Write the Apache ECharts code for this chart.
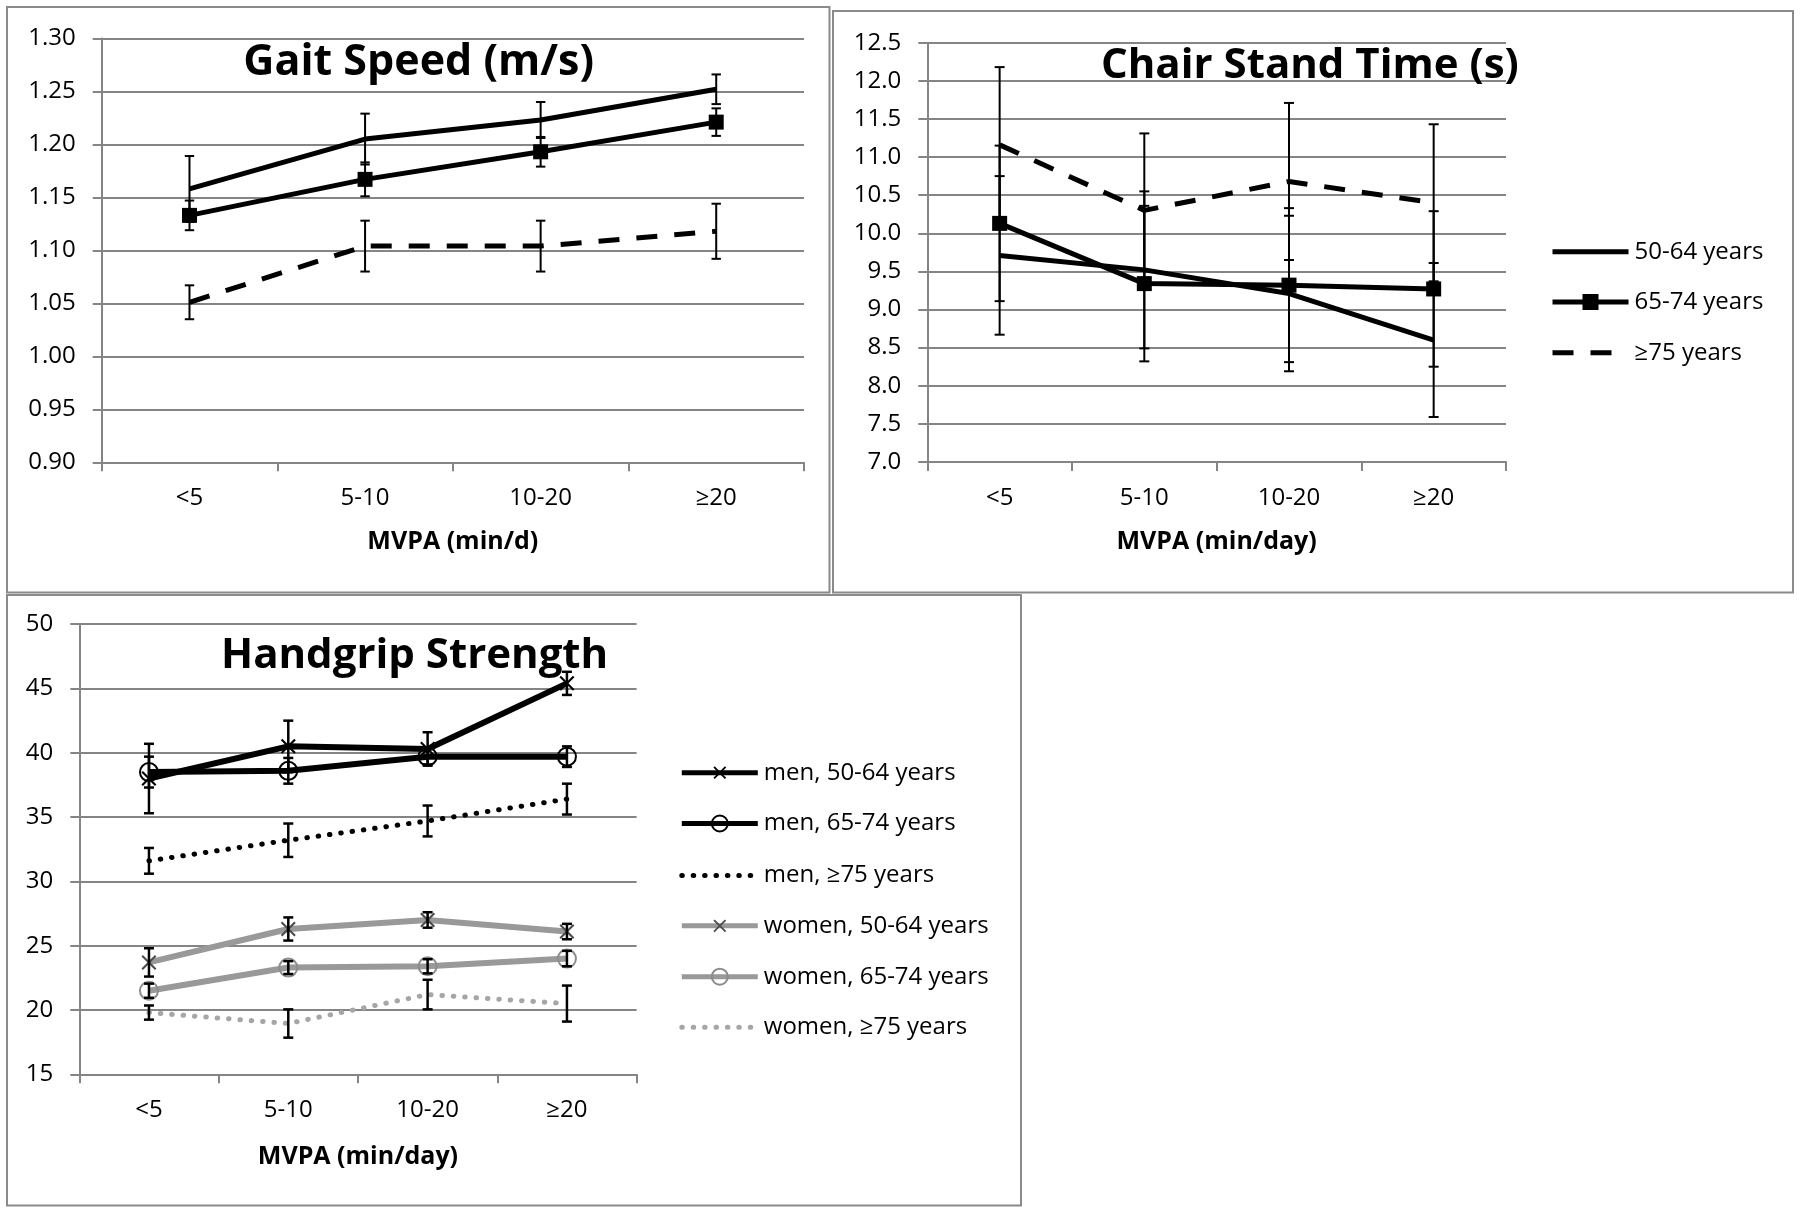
<!DOCTYPE html>
<html>
<head>
<meta charset="utf-8">
<script src="https://cdn.jsdelivr.net/npm/echarts@6/dist/echarts.min.js"></script>
<style>
html,body{margin:0;padding:0;background:#fff;}
#c{width:1800px;height:1212px;}
</style>
</head>
<body>
<div id="c"></div>
<script>
// ---------------- DATA ----------------
const categories = ['<5', '5-10', '10-20', '≥20'];
const ageNames = ['50-64 years', '65-74 years', '≥75 years'];

// Gait speed (m/s)
const gait5064 = [1.158, 1.205, 1.223, 1.252];
const gait5064Err = [0.031, 0.024, 0.017, 0.014];
const gait6574 = [1.133, 1.167, 1.193, 1.221];
const gait6574Err = [0.014, 0.016, 0.014, 0.013];
const gait75 = [1.051, 1.104, 1.104, 1.118];
const gait75Err = [0.016, 0.024, 0.024, 0.026];

// Chair stand time (s)
const chair5064 = [9.71, 9.52, 9.21, 8.60];
const chair5064Err = [1.04, 1.03, 1.02, 1.01];
const chair6574 = [10.13, 9.34, 9.32, 9.27];
const chair6574Err = [1.02, 1.02, 1.01, 1.02];
const chair75 = [11.16, 10.30, 10.68, 10.40];
const chair75Err = [1.02, 1.01, 1.03, 1.03];

// Handgrip strength
const gripNames = ['men, 50-64 years', 'men, 65-74 years', 'men, ≥75 years',
                   'women, 50-64 years', 'women, 65-74 years', 'women, ≥75 years'];
const gripMen5064 = [38.0, 40.5, 40.3, 45.4];
const gripMen5064Err = [2.7, 2.0, 1.3, 0.9];
const gripMen6574 = [38.5, 38.6, 39.7, 39.7];
const gripMen6574Err = [1.2, 1.0, 0.6, 0.8];
const gripMen75 = [31.6, 33.2, 34.7, 36.4];
const gripMen75Err = [1.0, 1.3, 1.2, 1.2];
const gripWomen5064 = [23.7, 26.3, 27.0, 26.1];
const gripWomen5064Err = [1.1, 0.9, 0.6, 0.6];
const gripWomen6574 = [21.5, 23.3, 23.4, 24.0];
const gripWomen6574Err = [0.55, 0.5, 0.55, 0.6];
const gripWomen75 = [19.8, 18.95, 21.2, 20.5];
const gripWomen75Err = [0.55, 1.1, 1.15, 1.4];

// Axis ranges
const gaitAxis = {min: 0.90, max: 1.30, step: 0.05, digits: 2};
const chairAxis = {min: 7.0, max: 12.5, step: 0.5, digits: 1};
const gripAxis = {min: 15, max: 50, step: 5, digits: 0};

const titles = ['Gait Speed (m/s)', 'Chair Stand Time (s)', 'Handgrip Strength'];
const xNames = ['MVPA (min/d)', 'MVPA (min/day)', 'MVPA (min/day)'];

// ---------------- STYLE ----------------
const FONT = '"Open Sans", "Liberation Sans", sans-serif';
const GRID_C = '#858585';
const BORDER_C = '#8a8a8a';
const DASH = [21, 17];
const DOT = [0.5, 10.9];
const X_PATH = 'path://M0,1L1,0L5,4L9,0L10,1L6,5L10,9L9,10L5,6L1,10L0,9L4,5Z';

const grids = [
  {left: 101.7, top: 38.4, width: 702.3, height: 423.9},
  {left: 927.3, top: 42.7, width: 578.7, height: 419.3},
  {left: 79.3, top: 624.2, width: 557.3, height: 450.1}
];
const axes = [gaitAxis, chairAxis, gripAxis];
const nameGaps = [67, 67, 70];

const xAxis = grids.map((g, i) => ({
  type: 'category', gridIndex: i, data: categories, boundaryGap: true,
  axisLine: {show: true, lineStyle: {color: GRID_C, width: 2}},
  axisTick: {show: true, length: 9, inside: false, lineStyle: {color: GRID_C, width: 2}},
  axisLabel: {margin: 24, fontSize: 24, color: '#000', fontFamily: FONT},
  splitLine: {show: false},
  name: xNames[i], nameLocation: 'middle', nameGap: nameGaps[i],
  nameTextStyle: {fontSize: 25, fontWeight: 'bold', color: '#000', fontFamily: FONT}
}));

const yAxis = axes.map((a, i) => ({
  type: 'value', gridIndex: i, min: a.min, max: a.max, interval: a.step,
  axisLine: {show: true, lineStyle: {color: GRID_C, width: 2}},
  axisTick: {show: true, length: 9, inside: false, lineStyle: {color: GRID_C, width: 2}},
  axisLabel: {margin: 26, fontSize: 24, color: '#000', fontFamily: FONT,
              formatter: v => Number(v).toFixed(a.digits)},
  splitLine: {show: true, lineStyle: {color: GRID_C, width: 2}}
}));

function lineSeries(name, data, idx, opt) {
  return Object.assign({
    type: 'line', name: name, data: data, xAxisIndex: idx, yAxisIndex: idx,
    symbol: 'none', showSymbol: true, animation: false, silent: true, z: 2,
    emphasis: {disabled: true}
  }, opt);
}

function errSeries(mean, err, idx, capHalf, lw) {
  return {
    type: 'custom', xAxisIndex: idx, yAxisIndex: idx, z: 5, silent: true, animation: false,
    data: mean.map((m, i) => [i, m - err[i], m + err[i]]),
    encode: {x: 0, y: [1, 2]},
    renderItem: function (params, api) {
      const x = api.value(0);
      const hi = api.coord([x, api.value(2)]);
      const lo = api.coord([x, api.value(1)]);
      const st = {stroke: '#000', lineWidth: lw};
      return {type: 'group', children: [
        {type: 'line', shape: {x1: hi[0], y1: hi[1], x2: lo[0], y2: lo[1]}, style: st},
        {type: 'line', shape: {x1: hi[0] - capHalf, y1: hi[1], x2: hi[0] + capHalf, y2: hi[1]}, style: st},
        {type: 'line', shape: {x1: lo[0] - capHalf, y1: lo[1], x2: lo[0] + capHalf, y2: lo[1]}, style: st}
      ]};
    }
  };
}

const solidBlack = {lineStyle: {color: '#000', width: 5}, itemStyle: {color: '#000'}};
const squareBlack = {symbol: 'rect', symbolSize: 15, lineStyle: {color: '#000', width: 5}, itemStyle: {color: '#000'}};
const dashBlack = {lineStyle: {color: '#000', width: 5, type: DASH}, itemStyle: {color: '#000'}};

const series = [
  // Gait
  lineSeries(ageNames[0], gait5064, 0, solidBlack),
  lineSeries(ageNames[1], gait6574, 0, squareBlack),
  lineSeries(ageNames[2], gait75, 0, dashBlack),
  errSeries(gait5064, gait5064Err, 0, 4.7, 2),
  errSeries(gait6574, gait6574Err, 0, 4.7, 2),
  errSeries(gait75, gait75Err, 0, 4.7, 2),
  // Chair
  lineSeries(ageNames[0], chair5064, 1, solidBlack),
  lineSeries(ageNames[1], chair6574, 1, squareBlack),
  lineSeries(ageNames[2], chair75, 1, dashBlack),
  errSeries(chair5064, chair5064Err, 1, 5, 2),
  errSeries(chair6574, chair6574Err, 1, 5, 2),
  errSeries(chair75, chair75Err, 1, 5, 2),
  // Handgrip
  lineSeries(gripNames[5], gripWomen75, 2, {lineStyle: {color: '#a6a6a6', width: 5, type: DOT, cap: 'round'}, itemStyle: {color: '#a6a6a6'}}),
  lineSeries(gripNames[4], gripWomen6574, 2, {symbol: 'circle', symbolSize: 18,
    lineStyle: {color: '#999999', width: 6}, itemStyle: {color: 'rgba(0,0,0,0)', borderColor: '#8c8c8c', borderWidth: 2}}),
  lineSeries(gripNames[3], gripWomen5064, 2, {symbol: X_PATH, symbolSize: 15,
    lineStyle: {color: '#999999', width: 6}, itemStyle: {color: '#4d4d4d'}}),
  lineSeries(gripNames[2], gripMen75, 2, {lineStyle: {color: '#000', width: 5, type: DOT, cap: 'round'}, itemStyle: {color: '#000'}}),
  lineSeries(gripNames[1], gripMen6574, 2, {symbol: 'circle', symbolSize: 18,
    lineStyle: {color: '#000', width: 6}, itemStyle: {color: 'rgba(0,0,0,0)', borderColor: '#000', borderWidth: 2}}),
  lineSeries(gripNames[0], gripMen5064, 2, {symbol: X_PATH, symbolSize: 15,
    lineStyle: {color: '#000', width: 6}, itemStyle: {color: '#000'}}),
  errSeries(gripMen5064, gripMen5064Err, 2, 5, 2.5),
  errSeries(gripMen6574, gripMen6574Err, 2, 5, 2.5),
  errSeries(gripMen75, gripMen75Err, 2, 5, 2.5),
  errSeries(gripWomen5064, gripWomen5064Err, 2, 5, 2.5),
  errSeries(gripWomen6574, gripWomen6574Err, 2, 5, 2.5),
  errSeries(gripWomen75, gripWomen75Err, 2, 5, 2.5)
];

function legendItem(name, left, cy, itemHeight, lw, noSymbol) {
  const l = {
    show: true, data: [name], left: left, top: cy - 12, orient: 'horizontal',
    padding: 0, itemWidth: 76, itemHeight: itemHeight, itemGap: 0, selectedMode: false,
    textStyle: {fontSize: 24, color: '#000', fontFamily: FONT, padding: [0, 0, 0, 1]},
    lineStyle: {width: lw}
  };
  if (noSymbol) l.itemStyle = {opacity: 0};
  return l;
}

const legend = [
  legendItem(ageNames[0], 1550, 251.7, 20, 5, true),
  legendItem(ageNames[1], 1550, 302, 20, 5, false),
  legendItem(ageNames[2], 1550, 352.8, 20, 5, true),
  legendItem(gripNames[0], 679.3, 772.7, 16, 5, false),
  legendItem(gripNames[1], 679.3, 823.5, 20, 5, false),
  legendItem(gripNames[2], 679.3, 875.5, 20, 5, true),
  legendItem(gripNames[3], 679.3, 925.8, 16, 5, false),
  legendItem(gripNames[4], 679.3, 976.7, 20, 5, false),
  legendItem(gripNames[5], 679.3, 1027.3, 20, 5, true)
];

function panelRect(x1, y1, x2, y2) {
  return {type: 'rect', silent: true, z: -10,
          shape: {x: x1, y: y1, width: x2 - x1, height: y2 - y1},
          style: {fill: 'none', stroke: BORDER_C, lineWidth: 2}};
}
function titleText(text, x, y, size) {
  return {type: 'text', silent: true, x: x, y: y, z: 10,
          style: {text: text, fontSize: size, fontWeight: 'bold', fontFamily: FONT, fill: '#000',
                  align: 'left', verticalAlign: 'middle', textAlign: 'left', textVerticalAlign: 'middle'}};
}

const option = {
  backgroundColor: '#fff',
  animation: false,
  grid: grids.map(g => Object.assign({containLabel: false, outerBoundsMode: 'none'}, g)),
  xAxis: xAxis,
  yAxis: yAxis,
  legend: legend,
  series: series,
  graphic: [
    panelRect(7, 7, 829.5, 592.5),
    panelRect(833, 11, 1793, 592.5),
    panelRect(7, 595, 1021, 1205.5),
    titleText(titles[0], 243.3, 62.5, 43),
    titleText(titles[1], 1101, 66.5, 42),
    titleText(titles[2], 221, 656.5, 42)
  ]
};

const chart = echarts.init(document.getElementById('c'), null, {renderer: 'canvas'});
chart.setOption(option);
</script>
</body>
</html>
